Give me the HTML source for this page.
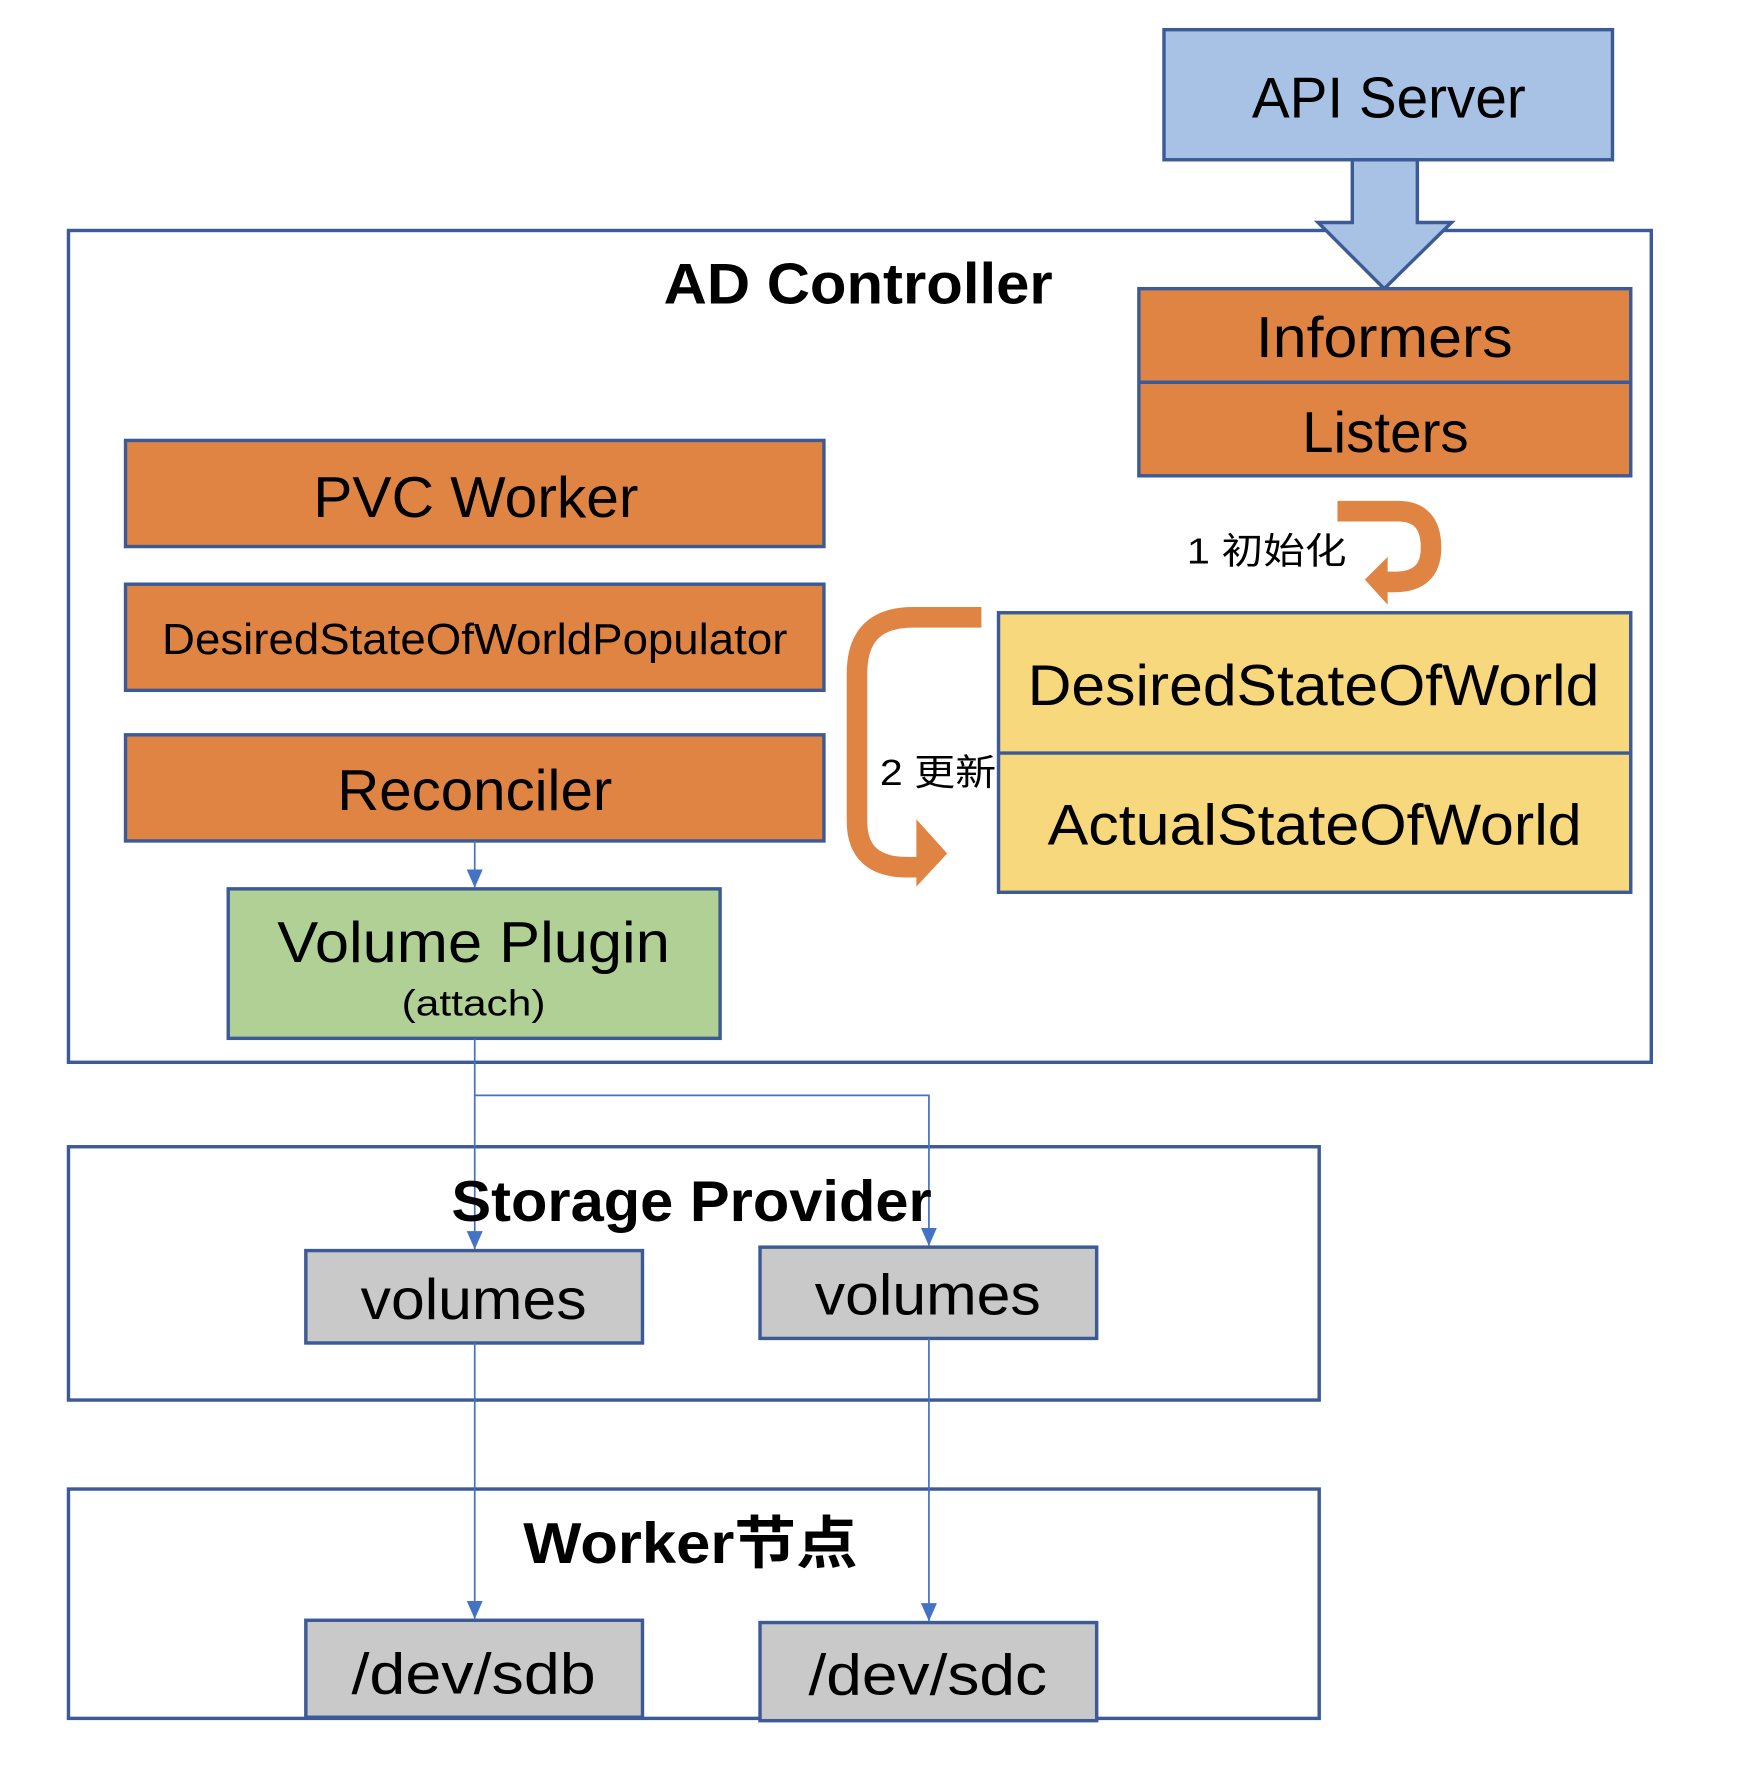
<!DOCTYPE html>
<html><head><meta charset="utf-8"><style>html,body{margin:0;padding:0;background:#fff}svg{display:block}</style></head>
<body>
<svg width="1746" height="1788" viewBox="0 0 1530 1567" preserveAspectRatio="none" xmlns="http://www.w3.org/2000/svg" font-family="Liberation Sans, Noto Sans CJK SC, sans-serif">
<defs>
<marker id="ar" markerWidth="16" markerHeight="14" refX="16" refY="7" orient="auto" markerUnits="userSpaceOnUse" viewBox="0 0 16 14">
<path d="M0,0 L16,7 L0,14 z" fill="#4472c4"/></marker>
</defs>
<g stroke="#3c5a96" stroke-width="3">
<rect x="1020" y="26" width="393" height="114" fill="#a7c2e4"/>
<rect x="60" y="202" width="1387" height="729" fill="none"/>
<path d="M1185,140 L1242,140 L1242,195 L1272,195 L1213,253 L1155,195 L1185,195 Z" fill="#a7c2e4"/>
<rect x="998" y="253" width="431" height="164" fill="#e08444"/>
<line x1="998" y1="335" x2="1429" y2="335"/>
<rect x="110" y="386" width="612" height="93" fill="#e08444"/>
<rect x="110" y="512" width="612" height="93" fill="#e08444"/>
<rect x="110" y="644" width="612" height="93" fill="#e08444"/>
<rect x="200" y="779" width="431" height="131" fill="#b1d095"/>
<rect x="875" y="537" width="554" height="245" fill="#f8d87c"/>
<line x1="875" y1="660" x2="1429" y2="660"/>
<rect x="60" y="1005" width="1096" height="222" fill="none"/>
<rect x="60" y="1305" width="1096" height="201" fill="none"/>
<rect x="268" y="1096" width="295" height="81" fill="#c9c9c9"/>
<rect x="666" y="1093" width="295" height="80" fill="#c9c9c9"/>
<rect x="268" y="1420" width="295" height="85" fill="#c9c9c9"/>
<rect x="666" y="1422" width="295" height="86" fill="#c9c9c9"/>
</g>
<g stroke="#4472c4" stroke-width="1.5" fill="none">
<line x1="416" y1="737" x2="416" y2="778" marker-end="url(#ar)"/>
<line x1="416" y1="910" x2="416" y2="1095" marker-end="url(#ar)"/>
<polyline points="416,960 814,960 814,1092" marker-end="url(#ar)"/>
<line x1="416" y1="1177" x2="416" y2="1419" marker-end="url(#ar)"/>
<line x1="814" y1="1173" x2="814" y2="1421" marker-end="url(#ar)"/>
</g>
<g stroke="#e08444" fill="none" stroke-width="18">
<path d="M1172,448 L1225,448 Q1254,448 1254,480 Q1254,510 1222,510 L1212,510"/>
<path d="M860,541 L800,541 Q751,541 751,590 L751,720 Q751,760 795,760 L806,760"/>
</g>
<g fill="#e08444">
<polygon points="1196,508 1216,488 1216,530"/>
<polygon points="803,718 830,748 803,777"/>
</g>
<g fill="#000" text-anchor="middle" font-size="50">
<text x="1217" y="103" textLength="240" lengthAdjust="spacingAndGlyphs">API Server</text>
<text x="752" y="266" font-weight="bold" textLength="341" lengthAdjust="spacingAndGlyphs">AD Controller</text>
<text x="1213" y="313" textLength="225" lengthAdjust="spacingAndGlyphs">Informers</text>
<text x="1214" y="396" textLength="146" lengthAdjust="spacingAndGlyphs">Listers</text>
<text x="417" y="453" textLength="285" lengthAdjust="spacingAndGlyphs">PVC Worker</text>
<text x="416" y="573" font-size="38" textLength="548" lengthAdjust="spacingAndGlyphs">DesiredStateOfWorldPopulator</text>
<text x="416" y="710" textLength="241" lengthAdjust="spacingAndGlyphs">Reconciler</text>
<text x="415" y="843" textLength="344" lengthAdjust="spacingAndGlyphs">Volume Plugin</text>
<text x="415" y="890" font-size="32" textLength="126" lengthAdjust="spacingAndGlyphs">(attach)</text>
<text x="1151" y="618" textLength="501" lengthAdjust="spacingAndGlyphs">DesiredStateOfWorld</text>
<text x="1152" y="740" textLength="468" lengthAdjust="spacingAndGlyphs">ActualStateOfWorld</text>
<text x="1110" y="494" font-size="32" textLength="140" lengthAdjust="spacingAndGlyphs">1 初始化</text>
<text x="822" y="688" font-size="32" textLength="102" lengthAdjust="spacingAndGlyphs">2 更新</text>
<text x="606" y="1070" font-weight="bold" textLength="421" lengthAdjust="spacingAndGlyphs">Storage Provider</text>
<text x="415" y="1156" textLength="198" lengthAdjust="spacingAndGlyphs">volumes</text>
<text x="813" y="1152" textLength="198" lengthAdjust="spacingAndGlyphs">volumes</text>
<text x="605" y="1370" font-weight="bold" textLength="293" lengthAdjust="spacingAndGlyphs">Worker节点</text>
<text x="415" y="1484" textLength="214" lengthAdjust="spacingAndGlyphs">/dev/sdb</text>
<text x="813" y="1485" textLength="209" lengthAdjust="spacingAndGlyphs">/dev/sdc</text>
</g>
</svg>
</body></html>
